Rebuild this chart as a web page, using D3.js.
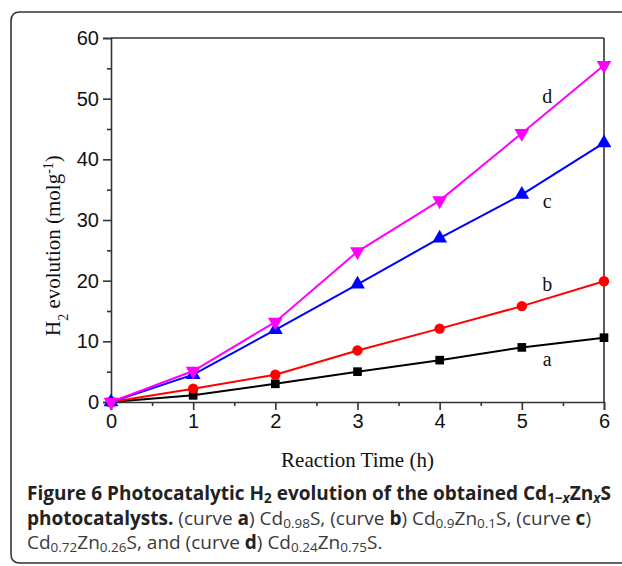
<!DOCTYPE html>
<html>
<head>
<meta charset="utf-8">
<script src="https://cdn.jsdelivr.net/npm/d3@7"></script>
<style>
  body { margin: 0; background: #fff; }
  svg { display: block; }
  .serif { font-family: "Liberation Serif", "Times New Roman", serif; fill: #111; }
  .caption { font-family: "Open Sans", "Noto Sans", sans-serif; fill: #3a3a3a; }
</style>
</head>
<body>
<div id="chart"></div>
<script>
// Reaction time (h)
const hours = [0, 1, 2, 3, 4, 5, 6];

// H2 evolution for each curve
const curveA = [0, 1.1, 3.0, 5.0, 6.9, 9.0, 10.6];
const curveB = [0, 2.2, 4.5, 8.5, 12.1, 15.8, 19.9];
const curveC = [0, 4.5, 11.9, 19.4, 27.0, 34.2, 42.7];
const curveD = [0, 5.1, 13.2, 24.8, 33.2, 44.3, 55.5];

const seriesNames = ['a', 'b', 'c', 'd'];
const seriesColors = ['#000000', '#ff0000', '#0000ff', '#ff00ff'];

// curve label anchor points (data units)
const labelX = [5.31, 5.31, 5.31, 5.31];
const labelY = [6.0, 18.3, 32.0, 49.3];

const xTicks = [0, 1, 2, 3, 4, 5, 6];
const yTicks = [0, 10, 20, 30, 40, 50, 60];

const width = 622, height = 566;
const margin = { top: 38, right: 18, bottom: 164, left: 111 };

const svg = d3.select('#chart')
    .append('svg')
    .attr('width', width)
    .attr('height', height);

// Outer figure frame (right side runs off the page)
const r = 9;
svg.append('path')
    .attr('d', `M ${width + 5} 12 L ${11 + r} 12 Q 11 12 11 ${12 + r} L 11 ${563 - r} Q 11 563 ${11 + r} 563 L ${width + 5} 563`)
    .attr('fill', 'none')
    .attr('stroke', '#333')
    .attr('stroke-width', 1.6);

const x = d3.scaleLinear().domain([0, 6]).range([margin.left, width - margin.right]);
const y = d3.scaleLinear().domain([0, 60]).range([height - margin.bottom, margin.top]);

const tickFont = 'Liberation Sans, Arial, sans-serif';

// Bottom axis
svg.append('g')
    .attr('transform', `translate(0,${y(0)})`)
    .call(d3.axisBottom(x).tickValues(xTicks).tickFormat(d3.format('d')).tickSizeOuter(0).tickSize(8).tickPadding(4))
    .attr('font-size', 20)
    .attr('font-family', tickFont);
svg.append('g')
    .attr('transform', `translate(0,${y(0)})`)
    .call(d3.axisBottom(x).tickValues(d3.range(0.5, 6, 1)).tickFormat('').tickSizeOuter(0).tickSize(4))
    .select('.domain').remove();

// Left axis
svg.append('g')
    .attr('transform', `translate(${x(0)},0)`)
    .call(d3.axisLeft(y).tickValues(yTicks).tickFormat(d3.format('d')).tickSizeOuter(0).tickSize(8).tickPadding(4))
    .attr('font-size', 20)
    .attr('font-family', tickFont);
svg.append('g')
    .attr('transform', `translate(${x(0)},0)`)
    .call(d3.axisLeft(y).tickValues(d3.range(5, 60, 10)).tickFormat('').tickSizeOuter(0).tickSize(4))
    .select('.domain').remove();

svg.selectAll('.tick text').attr('fill', '#111');

// Top and right frame lines
svg.append('line')
    .attr('x1', x(0)).attr('x2', x(6)).attr('y1', y(60)).attr('y2', y(60));
svg.append('line')
    .attr('x1', x(6)).attr('x2', x(6)).attr('y1', y(60)).attr('y2', y(0));

svg.selectAll('.domain, .tick line, line')
    .attr('stroke', '#333')
    .attr('stroke-width', 1.6);

// Lines and markers
const allSeries = [curveA, curveB, curveC, curveD];
const symbols = [
    { type: d3.symbolSquare, size: 75, rot: 0 },
    { type: d3.symbolCircle, size: 85, rot: 0 },
    { type: d3.symbolTriangle, size: 95, rot: 0 },
    { type: d3.symbolTriangle, size: 95, rot: 180 }
];

const line = d3.line()
    .x((d, i) => x(hours[i]))
    .y(d => y(d));

allSeries.forEach((vals, k) => {
    const g = svg.append('g');
    g.append('path')
        .datum(vals)
        .attr('d', line)
        .attr('fill', 'none')
        .attr('stroke', seriesColors[k])
        .attr('stroke-width', 2);

    g.selectAll('path.marker')
        .data(vals)
        .join('path')
        .attr('class', 'marker')
        .attr('d', d3.symbol().type(symbols[k].type).size(symbols[k].size))
        .attr('transform', (d, i) => `translate(${x(hours[i])},${y(d)}) rotate(${symbols[k].rot})`)
        .attr('fill', seriesColors[k]);

    svg.append('text')
        .attr('class', 'serif')
        .attr('x', x(labelX[k]))
        .attr('y', y(labelY[k]))
        .attr('text-anchor', 'middle')
        .style('font-size', '20px')
        .text(seriesNames[k]);
});

// Axis titles
svg.append('text')
    .attr('class', 'serif')
    .attr('x', (x(0) + x(6)) / 2)
    .attr('y', 467)
    .attr('text-anchor', 'middle')
    .style('font-size', '21px')
    .text('Reaction Time (h)');

const yTitle = svg.append('text')
    .attr('class', 'serif')
    .attr('transform', 'translate(60,336) rotate(-90)')
    .attr('text-anchor', 'start')
    .style('font-size', '21px');
yTitle.append('tspan').text('H');
yTitle.append('tspan').attr('baseline-shift', 'sub').style('font-size', '14px').text('2');
yTitle.append('tspan').text(' evolution (molg');
yTitle.append('tspan').attr('baseline-shift', 'super').style('font-size', '14px').text('-1');
yTitle.append('tspan').text(')');

// Caption
const capLines = [
    [['Figure 6 Photocatalytic H', 'b'], ['2', 'bs'], [' evolution of the obtained Cd', 'b'], ['1\u2212', 'bs'], ['x', 'bsi'], ['Zn', 'b'], ['x', 'bsi'], ['S', 'b']],
    [['photocatalysts.', 'b'], [' (curve ', 'n'], ['a', 'b'], [') Cd', 'n'], ['0.98', 's'], ['S, (curve ', 'n'], ['b', 'b'], [') Cd', 'n'], ['0.9', 's'], ['Zn', 'n'], ['0.1', 's'], ['S, (curve ', 'n'], ['c', 'b'], [')', 'n']],
    [['Cd', 'n'], ['0.72', 's'], ['Zn', 'n'], ['0.26', 's'], ['S, and (curve ', 'n'], ['d', 'b'], [') Cd', 'n'], ['0.24', 's'], ['Zn', 'n'], ['0.75', 's'], ['S.', 'n']]
];
const capY = [500, 525, 549];

capLines.forEach((parts, li) => {
    const t = svg.append('text')
        .attr('class', 'caption')
        .attr('x', 27)
        .attr('y', capY[li])
        .style('font-size', '19px');
    parts.forEach(([txt, st]) => {
        const ts = t.append('tspan').text(txt);
        if (st.includes('b')) ts.style('font-weight', 700).style('fill', '#222');
        if (st.includes('i')) ts.style('font-style', 'italic');
        if (st.includes('s')) ts.attr('baseline-shift', '-3').style('font-size', '13.5px');
    });
});
</script>
</body>
</html>
